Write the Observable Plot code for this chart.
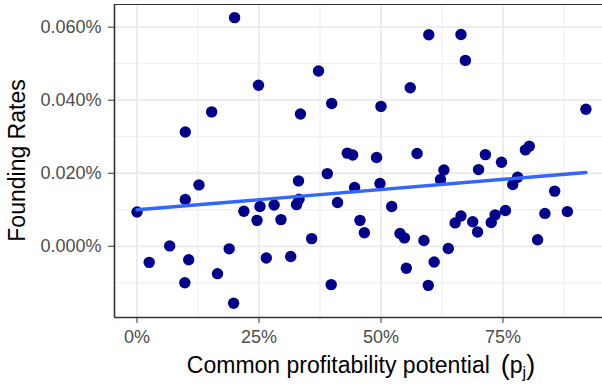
<!DOCTYPE html>
<html>
<head>
<meta charset="utf-8">
<script src="https://cdn.jsdelivr.net/npm/d3@7"></script>
<script src="https://cdn.jsdelivr.net/npm/@observablehq/plot@0.6"></script>
<style>
  html, body { margin: 0; padding: 0; background: #fff; }
</style>
</head>
<body>
<div id="chart"></div>
<script>
// Common profitability potential (percent)
const potentialPct = [
  20.0, 37.2, 24.9, 39.9, 15.3, 33.5, 9.9, 43.1, 44.2, 59.8,
  66.4, 67.3, 56.0, 50.0, 92.0, 49.1, 57.4, 71.4, 74.7, 79.6,
  80.4, 0.0, 2.5, 6.7, 9.9, 12.7, 10.6, 9.8, 16.5, 18.9,
  19.8, 21.9, 24.6, 25.2, 26.5, 28.1, 29.5, 31.5, 32.7, 33.2,
  33.1, 35.8, 39.0, 39.8, 41.1, 44.6, 45.7, 46.6, 49.8, 52.2,
  53.9, 54.8, 55.2, 58.8, 59.7, 60.9, 62.9, 62.2, 63.8, 65.2,
  66.4, 68.8, 69.8, 70.0, 72.6, 73.4, 75.5, 77.0, 78.0, 82.1,
  83.6, 85.6, 88.2
];
// Founding rates (percent)
const foundingPct = [
  0.0626, 0.0480, 0.0441, 0.0391, 0.0368, 0.0362, 0.0313, 0.0255, 0.0250, 0.0579,
  0.0580, 0.0509, 0.0434, 0.0383, 0.0375, 0.0243, 0.0254, 0.0251, 0.0230, 0.0264,
  0.0274, 0.0094, -0.0044, 0.0001, 0.0128, 0.0168, -0.0037, -0.0100, -0.0075, -0.0007,
  -0.0156, 0.0096, 0.0071, 0.0109, -0.0032, 0.0113, 0.0073, -0.0028, 0.0114, 0.0129,
  0.0179, 0.0021, 0.0199, -0.0105, 0.0120, 0.0161, 0.0071, 0.0037, 0.0172, 0.0109,
  0.0035, 0.0023, -0.0060, 0.0016, -0.0107, -0.0043, 0.0209, 0.0183, -0.0006, 0.0064,
  0.0083, 0.0067, 0.0039, 0.0210, 0.0065, 0.0086, 0.0098, 0.0169, 0.0189, 0.0018,
  0.0090, 0.0151, 0.0095
];
const xTicks = [0, 0.25, 0.5, 0.75];
const xMinor = [0.125, 0.375, 0.625, 0.875];
const yTicks = [0, 0.0002, 0.0004, 0.0006];
const yMinor = [-0.0001, 0.0001, 0.0003, 0.0005];
const xTitle = "Common profitability potential";
const yTitle = "Founding Rates";

const data = potentialPct.map((p, i) => ({x: p / 100, y: foundingPct[i] / 100}));

const xDomain = [-0.0461, 0.954];
const yDomain = [-0.000195, 0.000662];
const font = "'Liberation Sans', Arial, Helvetica, sans-serif";

const plot = Plot.plot({
  width: 602,
  height: 386,
  marginLeft: 114,
  marginRight: 0,
  marginTop: 4,
  marginBottom: 69,
  style: {fontFamily: font, background: "#fff", overflow: "visible"},
  x: {domain: xDomain},
  y: {domain: yDomain},
  marks: [
    Plot.ruleX(xMinor, {stroke: "#EBEBEB", strokeWidth: 0.9}),
    Plot.ruleY(yMinor, {stroke: "#EBEBEB", strokeWidth: 0.9}),
    Plot.ruleX(xTicks, {stroke: "#EBEBEB", strokeWidth: 1.8}),
    Plot.ruleY(yTicks, {stroke: "#EBEBEB", strokeWidth: 1.8}),
    Plot.dot(data, {x: "x", y: "y", r: 5.7, fill: "#00008B", stroke: "none"}),
    Plot.linearRegressionY(data, {x: "x", y: "y", stroke: "#3366FF", strokeWidth: 3.4, ci: 0}),
    Plot.ruleY([yDomain[1]], {stroke: "#333333", strokeWidth: 1}),
    Plot.ruleX([xDomain[0]], {stroke: "#333333", strokeWidth: 1.6}),
    Plot.ruleY([yDomain[0]], {stroke: "#333333", strokeWidth: 1.6}),
    Plot.axisX({ticks: xTicks, tickFormat: d3.format(".0%"), tickSize: 6, tickPadding: 7,
      fontSize: 18, stroke: "#333333", fill: "#4D4D4D", label: null}),
    Plot.axisY({ticks: yTicks, tickFormat: d3.format(".3%"), tickSize: 6, tickPadding: 7,
      fontSize: 18, stroke: "#333333", fill: "#4D4D4D", label: null})
  ]
});

const svg = d3.select(plot);
const sx = plot.scale("x"), sy = plot.scale("y");
const cx = (sx.range[0] + sx.range[1]) / 2;
const cy = (sy.range[0] + sy.range[1]) / 2;

const xt = svg.append("text")
  .attr("x", cx + 3).attr("y", 373)
  .attr("text-anchor", "middle")
  .attr("font-family", font).attr("font-size", 23).attr("fill", "#000");
xt.append("tspan").text(xTitle);
xt.append("tspan").attr("font-size", 27).attr("dx", 11).attr("dy", 1).text("(");
xt.append("tspan").attr("font-size", 23).attr("dy", -1).text("p");
xt.append("tspan").attr("font-size", 16).attr("dy", 5).text("j");
xt.append("tspan").attr("font-size", 27).attr("dy", -4).text(")");

svg.append("text")
  .attr("transform", `translate(25,${cy}) rotate(-90)`)
  .attr("text-anchor", "middle")
  .attr("font-family", font).attr("font-size", 23).attr("fill", "#000")
  .text(yTitle);

document.getElementById("chart").appendChild(plot);
</script>
</body>
</html>
